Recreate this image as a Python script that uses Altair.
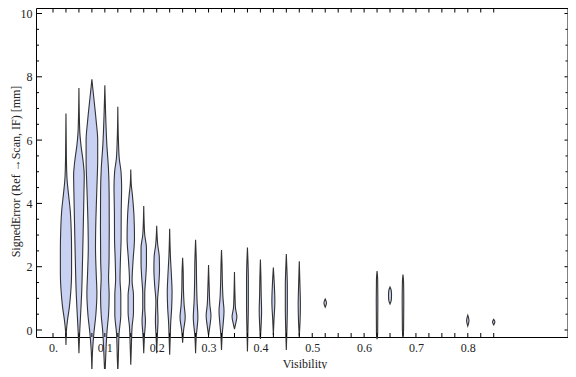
import altair as alt
import pandas as pd

# ---- data -------------------------------------------------------------
# Visibility bins (violin centres)
visibility = [0.025, 0.05, 0.075, 0.1, 0.125, 0.15, 0.175, 0.2, 0.225, 0.25,
              0.275, 0.3, 0.325, 0.35, 0.375, 0.4, 0.425, 0.45, 0.475, 0.525,
              0.625, 0.65, 0.675, 0.8, 0.85]

# Violin profiles: (signed error [mm], relative density) pairs
violin_0025 = [(-0.47, 0), (0, 0.5), (0.3, 1.5), (0.7, 3.3), (1.2, 4.8), (1.8, 5.6), (2.5, 5.6),
               (3.2, 5.2), (3.8, 4.2), (4.3, 2.5), (4.8, 1.0), (5.5, 0.4), (6.84, 0)]
violin_0050 = [(-0.73, 0), (-0.1, 0.7), (0.5, 1.7), (1.15, 2.7), (2.2, 3.6), (3.2, 4.3), (4.3, 5.0),
               (4.9, 5.3), (5.3, 4.3), (5.85, 2.0), (6.3, 0.8), (7.65, 0)]
violin_0075 = [(-1.35, 0), (-0.63, 0.7), (-0.1, 2.0), (0.5, 4.0), (1.15, 5.0), (1.8, 4.3), (2.6, 3.6),
               (3.5, 4.0), (4.5, 5.0), (5.4, 5.8), (6.0, 5.8), (6.6, 4.3), (7.4, 1.7), (7.7, 0.7), (7.92, 0)]
violin_0100 = [(-1.5, 0), (-0.73, 1.0), (-0.1, 2.0), (0.5, 3.7), (1.1, 4.3), (1.65, 3.7), (2.2, 4.2),
               (3.2, 4.4), (4.3, 4.3), (5.1, 3.6), (5.85, 2.0), (6.9, 0.7), (7.73, 0)]
violin_0125 = [(-1.35, 0), (-0.9, 0.5), (-0.1, 1.3), (0.5, 3.0), (1.1, 3.0), (1.6, 2.2), (2.2, 2.6),
               (2.9, 3.3), (3.7, 3.4), (4.5, 3.8), (5.0, 3.2), (5.4, 1.5), (6.0, 0.6), (7.05, 0)]
violin_0150 = [(-1.1, 0), (-0.4, 0.7), (0.1, 1.3), (0.55, 2.7), (1.1, 2.7), (1.55, 1.3), (2.2, 2.3),
               (2.9, 3.7), (3.6, 3.2), (4.3, 1.5), (4.6, 0.5), (5.07, 0)]
violin_0175 = [(-0.73, 0), (-0.2, 0.7), (0.3, 1.7), (0.7, 1.0), (1.15, 1.0), (1.65, 2.0), (2.1, 2.7),
               (2.6, 2.7), (3.0, 1.0), (3.4, 0.4), (3.92, 0)]
violin_0200 = [(-0.73, 0), (-0.2, 0.6), (0.3, 1.3), (0.9, 0.8), (1.4, 2.0), (1.9, 2.8), (2.3, 2.6),
               (2.7, 1.0), (3.29, 0)]
violin_0225 = [(-0.78, 0), (-0.2, 0.6), (0.2, 1.0), (0.7, 2.0), (1.2, 2.4), (1.7, 1.8), (2.3, 0.8), (3.2, 0)]
violin_0250 = [(-0.4, 0), (0.0, 1.0), (0.4, 2.6), (0.8, 1.5), (1.3, 0.8), (1.8, 0.6), (2.28, 0)]
violin_0275 = [(-0.73, 0), (-0.2, 0.7), (0.4, 2.3), (0.9, 1.5), (1.5, 1.0), (2.2, 0.7), (2.85, 0)]
violin_0300 = [(-0.16, 0), (0.1, 1.2), (0.45, 2.4), (0.8, 1.3), (1.3, 0.7), (2.05, 0)]
violin_0325 = [(-0.63, 0), (-0.1, 0.8), (0.25, 1.8), (0.6, 2.5), (1.0, 1.5), (1.6, 0.8), (2.1, 0.5), (2.53, 0)]
violin_0350 = [(0.03, 0), (0.2, 1.2), (0.42, 2.4), (0.7, 1.0), (1.1, 0.5), (1.83, 0)]
violin_0375 = [(-0.68, 0), (0.0, 0.5), (0.8, 0.9), (1.6, 0.9), (2.2, 0.5), (2.61, 0)]
violin_0400 = [(-0.28, 0), (0.2, 0.8), (0.6, 1.2), (1.1, 0.8), (1.7, 0.5), (2.23, 0)]
violin_0425 = [(-0.15, 0), (0.3, 0.6), (0.9, 1.5), (1.4, 1.0), (1.97, 0)]
violin_0450 = [(-0.63, 0), (0.0, 0.6), (0.7, 1.0), (1.4, 1.0), (1.9, 0.6), (2.4, 0)]
violin_0475 = [(-0.2, 0), (0.3, 0.8), (0.8, 1.1), (1.4, 0.7), (2.17, 0)]
violin_0525 = [(0.72, 0), (0.85, 1.3), (0.98, 0)]
violin_0625 = [(-0.29, 0), (-0.1, 0.6), (0.9, 0.8), (1.6, 0.6), (1.86, 0)]
violin_0650 = [(0.82, 0), (0.95, 1.3), (1.1, 1.5), (1.25, 1.2), (1.36, 0)]
violin_0675 = [(-0.2, 0), (0.0, 0.6), (0.9, 0.8), (1.5, 0.6), (1.75, 0)]
violin_0800 = [(0.12, 0), (0.3, 1.2), (0.47, 0)]
violin_0850 = [(0.16, 0), (0.25, 1.2), (0.34, 0)]

profiles = [violin_0025, violin_0050, violin_0075, violin_0100, violin_0125, violin_0150,
            violin_0175, violin_0200, violin_0225, violin_0250, violin_0275, violin_0300,
            violin_0325, violin_0350, violin_0375, violin_0400, violin_0425, violin_0450,
            violin_0475, violin_0525, violin_0625, violin_0650, violin_0675, violin_0800,
            violin_0850]

x_label_values = [0.0, 0.1, 0.2, 0.3, 0.4, 0.5, 0.6, 0.7, 0.8]
x_tick_values = [0.0, 0.025, 0.05, 0.075, 0.1, 0.125, 0.15, 0.175, 0.2, 0.225, 0.25, 0.275,
                 0.3, 0.325, 0.35, 0.375, 0.4, 0.425, 0.45, 0.475, 0.5, 0.525, 0.55, 0.575,
                 0.6, 0.625, 0.65, 0.675, 0.7, 0.725, 0.75, 0.775, 0.8, 0.825, 0.85]
y_major_values = [0, 2, 4, 6, 8, 10]
y_minor_values = [0.5, 1, 1.5, 2.5, 3, 3.5, 4.5, 5, 5.5, 6.5, 7, 7.5, 8.5, 9, 9.5]

# ---- build tables -------------------------------------------------------
rows = []
for i, (v, prof) in enumerate(zip(visibility, profiles)):
    for yv, d in prof:
        rows.append({"g": i, "v": v, "y": yv, "d": d})
violins = pd.DataFrame(rows)

W, H = 531.5, 329
DENSITY_SCALE = 1 / 518.5
xscale = alt.Scale(domain=[-0.0328, 0.9923], nice=False, zero=False)
yscale = alt.Scale(domain=[-0.221, 10.174], nice=False, zero=False)

FONT = "Liberation Serif"
TXT = "#222222"

x_axis = alt.Axis(values=x_label_values, labelExpr="datum.value == 0 ? '0.' : format(datum.value, '.1f')",
                  ticks=False, tickSize=0, domain=False, grid=False, labelPadding=10,
                  labelBaseline="middle", labelFont=FONT, labelFontSize=12, labelColor=TXT,
                  title="Visibility", titleFont=FONT, titleFontSize=12, titleFontWeight="normal",
                  titleColor=TXT, titleX=268.5, titleY=26, titleBaseline="middle", titleAlign="center")
y_axis = alt.Axis(values=y_major_values, format="d", ticks=False, tickSize=0, domain=False,
                  grid=False, labelPadding=4, labelFont=FONT, labelFontSize=12, labelColor=TXT,
                  title="SignedError (Ref →Scan, IF) [mm]", titleFont=FONT, titleFontSize=12,
                  titleFontWeight="normal", titleColor=TXT, titleX=-21, titleY=163,
                  titleAngle=270, titleBaseline="middle", titleAlign="center")

violin_layer = alt.Chart(violins).transform_calculate(
    xl=f"datum.v - datum.d * {DENSITY_SCALE}",
    xr=f"datum.v + datum.d * {DENSITY_SCALE}",
).mark_area(orient="horizontal", interpolate="monotone", fill="#c9d1f3",
            stroke="#333333", strokeWidth=1.1).encode(
    y=alt.Y("y:Q", scale=yscale, axis=y_axis),
    x=alt.X("xl:Q", scale=xscale, axis=x_axis),
    x2="xr:Q",
    detail="g:N",
)

xt = pd.DataFrame({"xl": x_tick_values})
ymaj = pd.DataFrame({"y": y_major_values})
ymin = pd.DataFrame({"y": y_minor_values})
TICK = dict(color="black", strokeWidth=1)

bottom_ticks = alt.Chart(xt).mark_rule(**TICK).encode(
    x=alt.X("xl:Q", scale=xscale, axis=x_axis), y=alt.value(H), y2=alt.value(H - 4))
top_ticks = alt.Chart(xt).mark_rule(**TICK).encode(
    x=alt.X("xl:Q", scale=xscale, axis=x_axis), y=alt.value(0), y2=alt.value(4.5))
left_major = alt.Chart(ymaj).mark_rule(**TICK).encode(
    y=alt.Y("y:Q", scale=yscale, axis=y_axis), x=alt.value(0), x2=alt.value(6))
left_minor = alt.Chart(ymin).mark_rule(**TICK).encode(
    y=alt.Y("y:Q", scale=yscale, axis=y_axis), x=alt.value(0), x2=alt.value(3))
right_major = alt.Chart(ymaj).mark_rule(**TICK).encode(
    y=alt.Y("y:Q", scale=yscale, axis=y_axis), x=alt.value(W), x2=alt.value(W - 3))
right_minor = alt.Chart(ymin).mark_rule(**TICK).encode(
    y=alt.Y("y:Q", scale=yscale, axis=y_axis), x=alt.value(W), x2=alt.value(W - 2))

chart = alt.layer(
    violin_layer, bottom_ticks, top_ticks, left_major, left_minor, right_major, right_minor
).properties(
    width=W, height=H,
    autosize=alt.AutoSizeParams(type="none"),
    padding={"left": 28, "top": 0, "right": 0.5, "bottom": 32},
    background="white",
).configure_view(stroke="black", strokeWidth=1)

chart.save("out.html", embed_options={"renderer": "svg", "actions": False})
